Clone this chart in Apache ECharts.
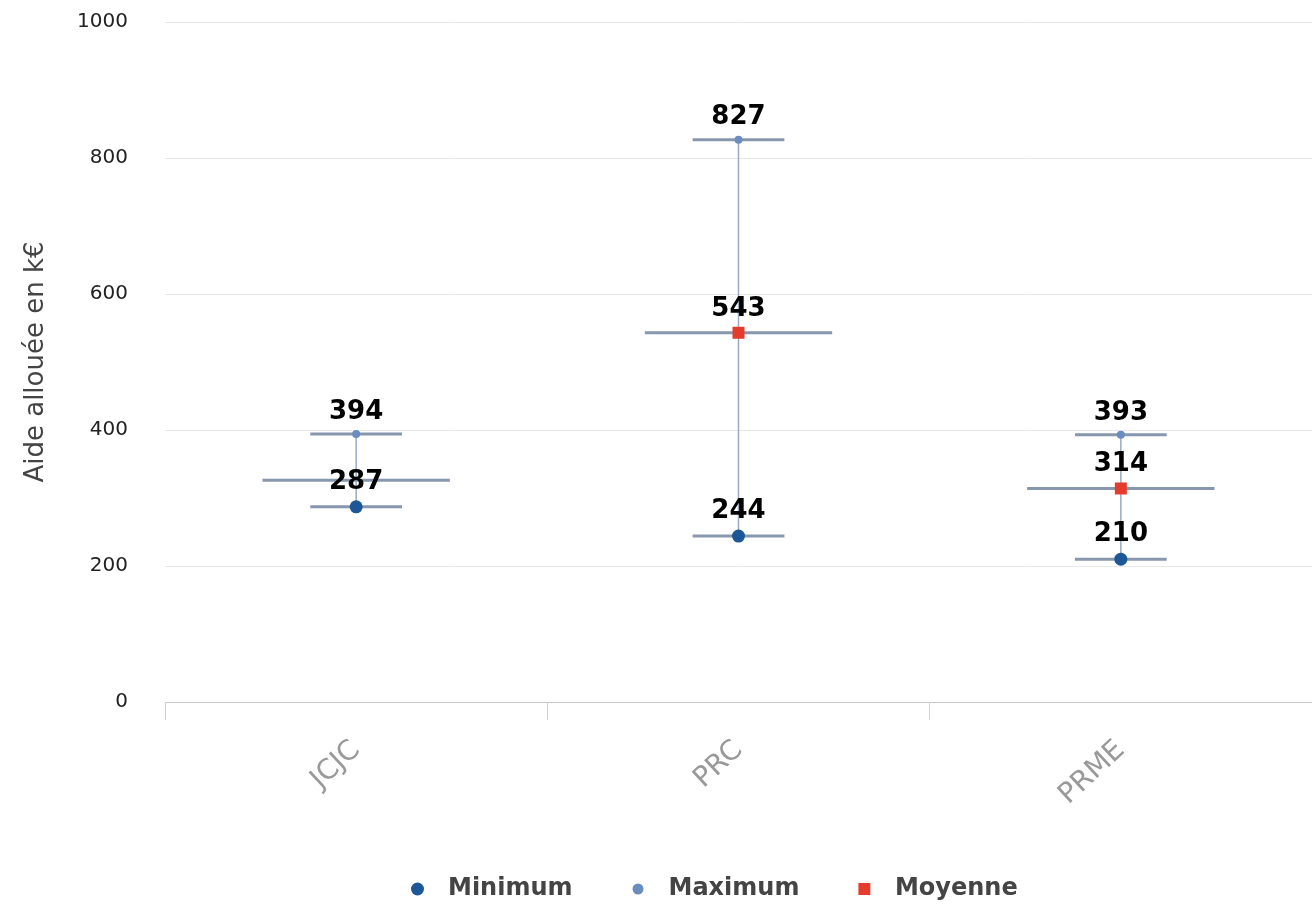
<!DOCTYPE html>
<html>
<head>
<meta charset="utf-8">
<script src="https://cdn.jsdelivr.net/npm/echarts@6/dist/echarts.min.js"></script>
<style>
html,body{margin:0;padding:0;background:#fff;}
#chart{width:1312px;height:904px;}
</style>
</head>
<body>
<div id="chart"></div>
<script>
const categories = ['JCJC', 'PRC', 'PRME'];
const minimum = [287, 244, 210];
const maximum = [394, 827, 393];
const moyenne = [326, 543, 314];
const moyenneMarked = [false, true, true];
const yTicks = [0, 200, 400, 600, 800, 1000];

const FONT = 'DejaVu Sans';
const chart = echarts.init(document.getElementById('chart'), null, {renderer: 'canvas'});

const rangeData = categories.map((c, i) => [i, minimum[i], maximum[i], moyenne[i]]);

const labelStyle = {
  show: true, position: 'top', distance: 5,
  fontFamily: FONT, fontWeight: 'bold', fontSize: 26, color: '#000'
};

const option = {
  backgroundColor: '#ffffff',
  animation: false,
  grid: {left: 165, top: 22, width: 1152, height: 680, containLabel: false},
  legend: {
    left: 406, top: 872,
    itemWidth: 13, itemHeight: 13, itemGap: 58,
    textStyle: {fontFamily: FONT, fontWeight: 'bold', fontSize: 24, color: '#444', padding: [0, 0, 0, 19]},
    data: [
      {name: 'Minimum', icon: 'circle'},
      {name: 'Maximum', icon: 'circle', itemStyle: {borderColor: '#fff', borderWidth: 2}},
      {name: 'Moyenne', icon: 'rect', itemStyle: {borderColor: '#fff', borderWidth: 1}}
    ]
  },
  xAxis: {
    type: 'category', data: categories,
    axisLine: {lineStyle: {color: '#c8c8c8', width: 1}},
    axisTick: {show: true, length: 18, lineStyle: {color: '#d0d0d0'}},
    axisLabel: {interval: 0, rotate: 43, margin: 44, fontFamily: FONT, fontSize: 28, color: '#999'},
    splitLine: {show: false}
  },
  yAxis: {
    type: 'value', min: 0, max: 1000, interval: 200,
    name: 'Aide allouée en k€', nameLocation: 'middle', nameGap: 116,
    nameTextStyle: {fontFamily: FONT, fontSize: 26, color: '#444'},
    axisLine: {show: false}, axisTick: {show: false},
    axisLabel: {margin: 37, fontFamily: FONT, fontSize: 20, color: '#222',
      formatter: v => yTicks.includes(v) ? String(v) : ''},
    splitLine: {lineStyle: {color: '#e8e8e8', width: 1}}
  },
  series: [
    {
      type: 'custom', name: 'range', silent: true, z: 1,
      data: rangeData,
      renderItem: function (params, api) {
        const i = api.value(0);
        const pMin = api.coord([i, api.value(1)]);
        const pMax = api.coord([i, api.value(2)]);
        const pMean = api.coord([i, api.value(3)]);
        const band = api.size([1, 0])[0];
        const capHalf = band * 0.12;
        const meanHalf = band * 0.245;
        const capStyle = {stroke: '#8797ad', lineWidth: 3};
        return {
          type: 'group',
          children: [
            {type: 'line', shape: {x1: pMin[0], y1: pMin[1], x2: pMax[0], y2: pMax[1]},
             style: {stroke: '#9aaac2', lineWidth: 1.5}},
            {type: 'line', shape: {x1: pMin[0] - capHalf, y1: pMin[1], x2: pMin[0] + capHalf, y2: pMin[1]}, style: capStyle},
            {type: 'line', shape: {x1: pMax[0] - capHalf, y1: pMax[1], x2: pMax[0] + capHalf, y2: pMax[1]}, style: capStyle},
            {type: 'line', shape: {x1: pMean[0] - meanHalf, y1: pMean[1], x2: pMean[0] + meanHalf, y2: pMean[1]}, style: capStyle}
          ]
        };
      }
    },
    {
      type: 'scatter', name: 'Minimum', z: 3,
      symbol: 'circle', symbolSize: 13,
      itemStyle: {color: '#1d5797', opacity: 1},
      label: labelStyle,
      data: minimum
    },
    {
      type: 'scatter', name: 'Maximum', z: 3,
      symbol: 'circle', symbolSize: 8,
      itemStyle: {color: '#6b8cc0', opacity: 1},
      label: labelStyle,
      data: maximum
    },
    {
      type: 'scatter', name: 'Moyenne', z: 3,
      symbol: 'rect', symbolSize: 12,
      itemStyle: {color: '#e53b2c', opacity: 1},
      label: labelStyle,
      data: moyenne.map((v, i) => moyenneMarked[i] ? v : {
        value: v, itemStyle: {opacity: 0}, label: {show: false}
      })
    }
  ]
};
chart.setOption(option);
</script>
</body>
</html>
